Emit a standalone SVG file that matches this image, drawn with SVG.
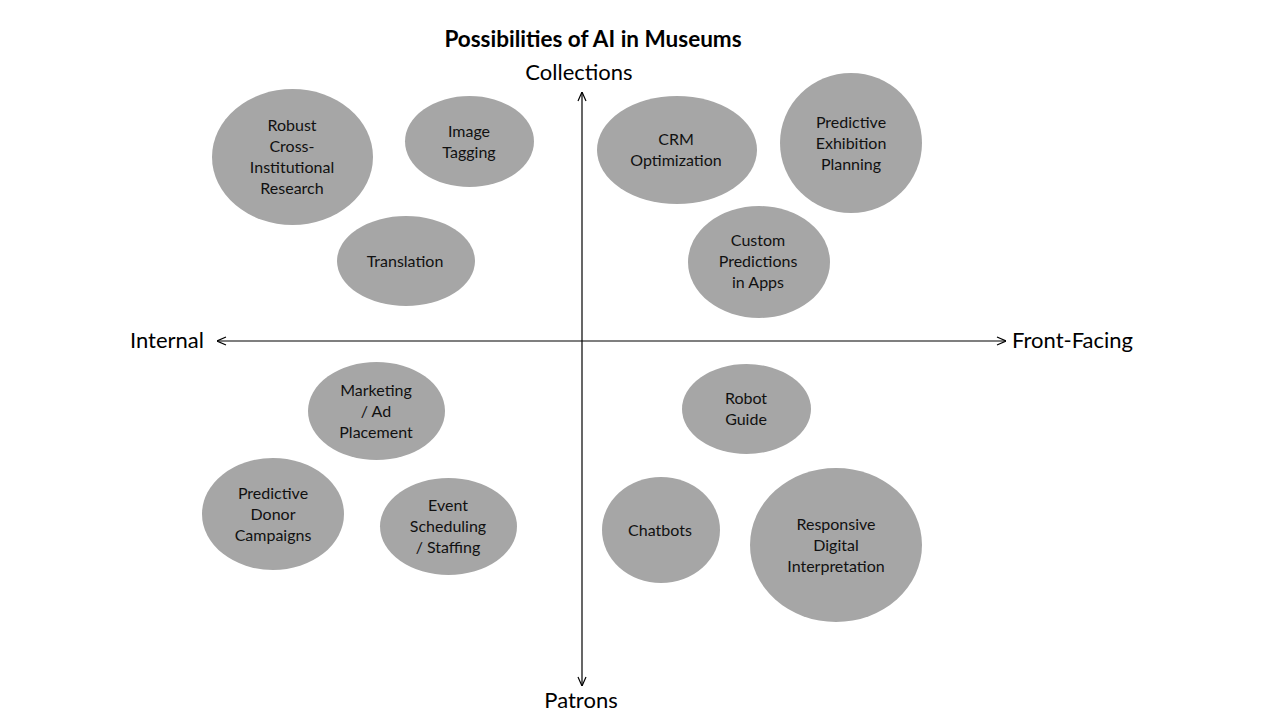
<svg xmlns="http://www.w3.org/2000/svg" width="1280" height="720" viewBox="0 0 1280 720">
<style>
.n{fill:#a6a6a6;}
.t{font-family:Lato,"Liberation Sans",sans-serif;font-size:16px;fill:#111;text-anchor:middle;}
.ax{font-family:Lato,"Liberation Sans",sans-serif;font-size:22px;fill:#000;}
.ti{font-family:Lato,"Liberation Sans",sans-serif;font-size:22.5px;font-weight:bold;fill:#000;text-anchor:middle;}
.l{stroke:#000;stroke-width:1.2;fill:none;marker-start:url(#a);marker-end:url(#a);}
</style>
<defs>
<marker id="a" viewBox="0 0 10 10" refX="10" refY="5" markerWidth="10" markerHeight="10" markerUnits="userSpaceOnUse" orient="auto-start-reverse">
<path d="M1,1 L10,5 L1,9" fill="none" stroke="#000" stroke-width="1.2"/>
</marker>
</defs>
<rect width="1280" height="720" fill="#fff"/>
<text class="ti" x="593" y="47">Possibilities of AI in Museums</text>
<text class="ax" x="579" y="80" text-anchor="middle">Collections</text>
<text class="ax" x="581" y="708" text-anchor="middle">Patrons</text>
<text class="ax" x="130" y="348">Internal</text>
<text class="ax" x="1012" y="348">Front-Facing</text>
<g id="connectors">
<line class="l" x1="582" y1="92" x2="582" y2="686"/>
<line class="l" x1="217" y1="341" x2="1006" y2="341"/>
</g>
<g id="n1"><ellipse class="n" cx="292.5" cy="157" rx="80.5" ry="68"/>
<text class="t" x="292" y="131">Robust</text><text class="t" x="292" y="152">Cross-</text><text class="t" x="292" y="173">Institutional</text><text class="t" x="292" y="194">Research</text></g>
<g id="n2"><ellipse class="n" cx="469.5" cy="141.5" rx="64.5" ry="45.5"/>
<text class="t" x="469" y="137">Image</text><text class="t" x="469" y="158">Tagging</text></g>
<g id="n3"><ellipse class="n" cx="406" cy="261" rx="69" ry="45"/>
<text class="t" x="405" y="267">Translation</text></g>
<g id="n4"><ellipse class="n" cx="677" cy="150" rx="80" ry="54"/>
<text class="t" x="676" y="145">CRM</text><text class="t" x="676" y="166">Optimization</text></g>
<g id="n5"><ellipse class="n" cx="851" cy="143" rx="71" ry="70"/>
<text class="t" x="851" y="128">Predictive</text><text class="t" x="851" y="149">Exhibition</text><text class="t" x="851" y="170">Planning</text></g>
<g id="n6"><ellipse class="n" cx="759" cy="262" rx="71" ry="56"/>
<text class="t" x="758" y="246">Custom</text><text class="t" x="758" y="267">Predictions</text><text class="t" x="758" y="288">in Apps</text></g>
<g id="n7"><ellipse class="n" cx="376.5" cy="411" rx="68.5" ry="49"/>
<text class="t" x="376" y="396">Marketing</text><text class="t" x="376" y="417">/ Ad</text><text class="t" x="376" y="438">Placement</text></g>
<g id="n8"><ellipse class="n" cx="273" cy="514" rx="71" ry="56"/>
<text class="t" x="273" y="499">Predictive</text><text class="t" x="273" y="520">Donor</text><text class="t" x="273" y="541">Campaigns</text></g>
<g id="n9"><ellipse class="n" cx="448.5" cy="526.5" rx="68.5" ry="48.5"/>
<text class="t" x="448" y="511">Event</text><text class="t" x="448" y="532">Scheduling</text><text class="t" x="448" y="553">/ Staffing</text></g>
<g id="n10"><ellipse class="n" cx="746.5" cy="409" rx="64.5" ry="45"/>
<text class="t" x="746" y="404">Robot</text><text class="t" x="746" y="425">Guide</text></g>
<g id="n11"><ellipse class="n" cx="661" cy="530" rx="59" ry="53"/>
<text class="t" x="660" y="536">Chatbots</text></g>
<g id="n12"><ellipse class="n" cx="836" cy="545" rx="86" ry="77"/>
<text class="t" x="836" y="530">Responsive</text><text class="t" x="836" y="551">Digital</text><text class="t" x="836" y="572">Interpretation</text></g>
</svg>
